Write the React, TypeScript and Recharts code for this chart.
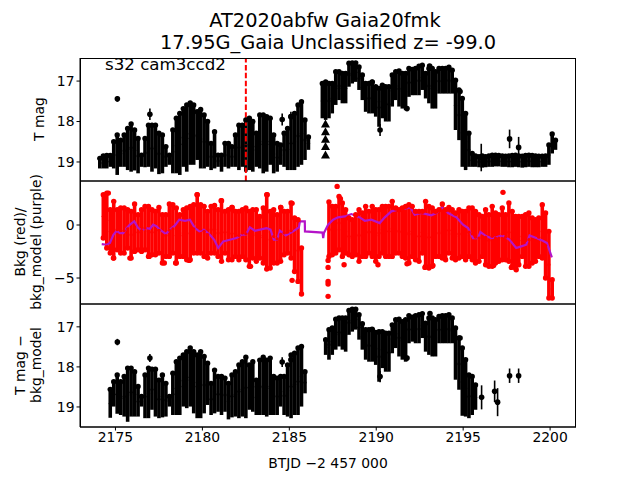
import { ComposedChart, Scatter, ErrorBar, Line, XAxis, YAxis, ReferenceLine } from 'recharts';

const FONT = 'DejaVu Sans';
const BTJD_TICKS = [2175, 2180, 2185, 2190, 2195, 2200];
const MAG_TICKS = [17, 18, 19];
const BKG_TICKS = [-5, 0];
const X_DOMAIN = [2172.96, 2201.49];

// sampling days, before and after the gap
const tLeft = [
  2174.1, 2174.3, 2174.5, 2174.7, 2174.9, 2175.1, 2175.3, 2175.5, 2175.7, 2175.9,
  2176.1, 2176.3, 2176.5, 2176.7, 2176.9, 2177.1, 2177.3, 2177.5, 2177.7, 2177.9,
  2178.1, 2178.3, 2178.5, 2178.7, 2178.9, 2179.1, 2179.3, 2179.5, 2179.7, 2179.9,
  2180.1, 2180.3, 2180.5, 2180.7, 2180.9, 2181.1, 2181.3, 2181.5, 2181.7, 2181.9,
  2182.1, 2182.3, 2182.5, 2182.7, 2182.9, 2183.1, 2183.3, 2183.5, 2183.7, 2183.9,
  2184.1, 2184.3, 2184.5, 2184.7, 2184.9, 2185.1, 2185.3, 2185.5, 2185.7, 2185.9, 2186.1,
];
const tRight = [
  2186.90, 2187.09, 2187.28, 2187.47, 2187.67, 2187.86, 2188.05, 2188.24, 2188.43, 2188.62,
  2188.82, 2189.01, 2189.20, 2189.39, 2189.58, 2189.77, 2189.97, 2190.16, 2190.35, 2190.54,
  2190.73, 2190.92, 2191.12, 2191.31, 2191.50, 2191.69, 2191.88, 2192.07, 2192.26, 2192.46,
  2192.65, 2192.84, 2193.03, 2193.22, 2193.41, 2193.61, 2193.80, 2193.99, 2194.18, 2194.37,
  2194.56, 2194.76, 2194.95, 2195.14, 2195.33, 2195.52, 2195.71, 2195.91, 2196.10, 2196.29,
  2196.48, 2196.67, 2196.86, 2197.05, 2197.25, 2197.44, 2197.63, 2197.82, 2198.01, 2198.20,
  2198.40, 2198.59, 2198.78, 2198.97, 2199.16, 2199.35, 2199.55, 2199.74, 2199.93, 2200.12, 2200.31,
];

// top panel, bright and faint edge of the light curve
const magTopLeft = [
  18.91, 18.85, 18.84, 18.84, 18.50, 18.33, 18.46, 18.33, 18.17, 18.06,
  18.21, 18.42, 18.83, 18.42, 18.09, 18.09, 18.09, 18.29, 18.33, 18.62,
  18.83, 18.21, 17.92, 17.80, 17.68, 17.59, 17.54, 17.59, 17.76, 17.70,
  17.84, 18.00, 18.54, 18.25, 18.83, 18.83, 18.54, 18.54, 18.62, 18.33,
  18.09, 18.09, 17.96, 17.92, 18.00, 18.29, 17.84, 17.84, 17.88, 17.92,
  18.33, 18.54, 18.58, 18.29, 18.17, 17.88, 17.80, 17.59, 17.51, 17.96, 18.38,
];
const magBotLeft = [
  19.16, 19.16, 19.16, 19.12, 19.16, 19.32, 19.12, 19.12, 19.20, 19.24,
  19.21, 19.28, 19.12, 19.13, 19.12, 19.24, 19.16, 19.30, 19.28, 19.12,
  19.07, 19.28, 19.28, 19.32, 19.12, 19.24, 19.07, 19.07, 18.95, 19.16,
  19.16, 19.12, 19.20, 19.16, 19.12, 19.24, 19.12, 19.16, 19.12, 19.12,
  19.20, 19.12, 19.24, 19.20, 19.24, 19.12, 19.16, 19.28, 19.24, 19.07,
  19.28, 19.24, 19.07, 19.12, 19.20, 19.20, 19.20, 19.12, 19.07, 18.95, 18.70,
];
const magTopRight = [
  17.06, 17.02, 17.06, 17.06, 16.77, 16.77, 16.81, 16.81, 16.56, 16.55,
  16.55, 16.65, 16.85, 17.06, 17.06, 17.02, 17.14, 17.18, 17.10, 17.14,
  17.14, 16.85, 16.77, 16.75, 16.81, 16.81, 16.69, 16.71, 16.69, 16.63,
  16.61, 16.81, 16.69, 16.69, 16.77, 16.69, 16.69, 16.69, 16.66, 16.73,
  16.98, 17.22, 17.43, 17.80, 18.29, 18.79, 18.85, 18.87, 18.85, 18.87,
  18.85, 18.83, 18.83, 18.84, 18.85, 18.86, 18.85, 18.84, 18.83, 18.85,
  18.86, 18.84, 18.83, 18.84, 18.85, 18.86, 18.86, 18.85, 18.58, 18.31, 18.46,
];
const magBotRight = [
  17.92, 17.96, 17.92, 17.80, 17.59, 17.47, 17.55, 17.55, 17.14, 17.06,
  17.02, 17.22, 17.47, 17.76, 17.80, 17.80, 17.88, 18.13, 17.92, 18.00,
  18.00, 17.63, 17.47, 17.63, 17.68, 17.72, 17.39, 17.35, 17.35, 17.35,
  17.22, 17.43, 17.55, 17.68, 17.68, 17.31, 17.31, 17.31, 17.31, 17.31,
  18.21, 18.46, 19.12, 19.20, 19.12, 19.12, 19.12, 19.13, 19.14, 19.13,
  19.12, 19.12, 19.11, 19.11, 19.12, 19.12, 19.13, 19.13, 19.12, 19.13,
  19.14, 19.13, 19.12, 19.13, 19.13, 19.13, 19.12, 19.12, 19.07, 18.79, 18.70,
];
const limitDays = [2187.08, 2187.08, 2187.08, 2187.08, 2187.08];
const limitMags = [18.06, 18.25, 18.44, 18.62, 18.83];
const soloDays = [2175.11, 2176.98, 2184.59, 2185.09, 2193.07, 2189.76, 2190.22, 2191.77, 2194.82, 2196.04, 2197.67, 2198.19];
const soloMags = [17.44, 17.82, 17.95, 17.88, 16.63, 17.03, 18.21, 17.68, 17.26, 18.89, 18.43, 18.64];
const soloErrs = [0.07, 0.14, 0.15, 0.12, 0.05, 0.05, 0.15, 0.06, 0.05, 0.34, 0.23, 0.26];

// middle panel, background flux
const bkgHiLeft = [
  2.86, 3.01, 1.44, 2.23, 1.44, 1.60, 1.60, 1.44, 1.29, 1.98,
  0.97, 1.44, 1.76, 1.76, 1.44, 1.29, 1.66, 0.97, 0.97, 1.98,
  1.91, 1.60, 0.97, 1.44, 1.60, 1.76, 1.91, 2.86, 1.91, 1.76,
  1.29, 1.76, 1.85, 1.44, 2.29, 1.29, 1.44, 1.66, 1.29, 1.29,
  1.44, 1.60, 1.29, 1.44, 1.44, 0.81, 1.60, 2.86, 1.29, 1.44,
  0.97, 1.66, 1.29, 1.29, 2.07, 0.66, 0.50, -2.17,
];
const bkgLoLeft = [
  -1.23, -2.17, -2.65, -3.12, -2.33, -2.65, -2.65, -2.17, -3.12, -2.49,
  -2.33, -2.49, -2.33, -2.96, -2.80, -2.80, -2.65, -3.59, -2.96, -2.96,
  -2.65, -3.59, -2.96, -2.96, -3.27, -3.27, -2.65, -2.65, -2.65, -2.96,
  -3.12, -2.65, -2.65, -2.96, -3.43, -2.65, -3.27, -3.27, -2.96, -3.27,
  -2.96, -3.27, -3.90, -3.12, -3.43, -3.12, -3.59, -4.16, -4.06, -3.59,
  -3.59, -3.43, -2.80, -2.65, -3.12, -4.38, -5.32, -6.51,
];
const bkgHiRight = [
  2.17, 1.76, 1.76, 2.70, 2.07, 1.44, 0.66, 0.50, 0.97, 1.44,
  1.13, 1.76, 1.29, 1.76, 1.44, 1.44, 1.76, 1.76, 1.76, 2.23,
  1.60, 1.44, 1.60, 1.76, 1.91, 1.76, 1.29, 1.29, 1.29, 2.23,
  1.76, 1.60, 1.29, 1.44, 1.98, 1.44, 1.66, 1.44, 1.13, 1.44,
  1.29, 1.29, 1.60, 1.60, 1.29, 0.97, 0.81, 1.44, 0.97, 1.76,
  1.13, 0.97, 1.60, 0.97, 2.07, 1.29, 0.81, 0.81, 0.81, 0.97,
  1.13, 0.66, 0.50, 0.66, 1.91, 1.13, -0.60, -5.16,
];
const bkgLoRight = [
  -2.96, -2.80, -2.65, -2.33, -2.96, -2.65, -2.80, -2.96, -2.80, -3.43,
  -2.96, -2.96, -2.65, -2.96, -3.43, -2.96, -2.65, -2.96, -2.96, -2.96,
  -2.65, -2.65, -2.96, -3.12, -3.59, -2.96, -3.27, -3.43, -2.65, -3.90,
  -4.06, -3.90, -2.96, -2.96, -3.12, -3.27, -2.65, -3.12, -3.27, -3.12,
  -2.96, -3.27, -2.96, -3.27, -3.59, -3.43, -2.96, -3.75, -3.90, -3.90,
  -3.59, -3.43, -3.27, -3.27, -3.43, -3.90, -4.06, -3.75, -2.96, -3.90,
  -3.90, -3.59, -3.43, -2.96, -3.12, -5.00, -6.89, -6.89,
];
const bkgSoloDays = [2174.59, 2174.88, 2175.83, 2176.94, 2177.81, 2178.46, 2179.24, 2179.7, 2181.08, 2181.71, 2182.77, 2183.73, 2184.51, 2185.16, 2185.16, 2187.23, 2187.23, 2187.23, 2187.23, 2187.23, 2187.75, 2187.94, 2188.15, 2190.1, 2191.77, 2192.8, 2193.26, 2196.75, 2197.29, 2197.77, 2198.05];
const bkgSoloVals = [3.01, -3.12, -3.12, -2.96, -3.59, -3.59, -3.34, 2.86, 2.29, 1.66, -3.90, 2.86, 1.66, -5.22, 2.04, -3.34, -4.0, -5.32, -5.57, -6.73, 3.64, 2.48, -3.75, -3.75, -3.65, -4.0, -3.81, -3.81, 3.08, -4.0, -4.22];

const modelDays = [
  2174.21, 2174.49, 2174.68, 2174.88, 2175.07, 2175.26, 2175.45, 2175.64, 2175.83, 2176.08,
  2176.31, 2176.50, 2176.79, 2176.98, 2177.17, 2177.37, 2177.56, 2177.90, 2178.13, 2178.42,
  2178.67, 2179.00, 2179.28, 2179.57, 2179.82, 2180.09, 2180.43, 2180.68, 2180.91, 2181.20,
  2181.58, 2181.96, 2182.25, 2182.50, 2182.73, 2183.02, 2183.31, 2183.69, 2183.92, 2184.11,
  2184.30, 2184.46, 2184.80, 2185.22, 2185.55, 2185.61, 2185.89, 2185.90, 2186.91, 2186.95,
  2186.99, 2187.23, 2187.52, 2187.80, 2188.19, 2188.57, 2189.05, 2189.34, 2189.72, 2190.20,
  2190.49, 2190.87, 2191.25, 2191.64, 2191.96, 2192.21, 2192.59, 2192.88, 2193.17, 2193.46,
  2193.80, 2194.13, 2194.61, 2194.99, 2195.28, 2195.56, 2195.85, 2195.99, 2196.33, 2196.62,
  2196.90, 2197.25, 2197.67, 2198.05, 2198.34, 2198.63, 2198.82, 2199.20, 2199.58, 2199.82, 2200.10,
];
const modelVals = [
  -1.80, -1.86, -1.70, -0.92, -0.54, -0.76, -0.76, -0.29, 0.03, 0.34,
  -0.29, -0.51, -0.29, -0.35, 0.03, -0.13, -0.44, -0.85, -0.44, -0.04,
  0.50, 0.40, 0.50, -0.29, -0.60, -0.44, -0.92, -1.39, -2.17, -1.55,
  -1.39, -1.23, -0.92, -0.92, -0.22, -0.54, -0.44, -0.29, -0.44, -1.39,
  -1.39, -0.54, -0.98, -0.60, -0.22, 0.34, 0.34, -0.60, -0.72, -1.23,
  -0.76, 0.03, 0.50, 0.72, 0.81, 1.03, 0.72, 0.40, 0.50, 0.18,
  0.72, 1.29, 1.44, 1.54, 1.66, 0.97, 1.13, 1.03, 0.91, 1.13,
  1.66, 1.13, 0.72, 0.03, -0.29, -1.23, -1.23, -0.66, -1.07, -1.23,
  -1.17, -0.98, -1.39, -2.17, -2.02, -1.86, -0.98, -1.23, -1.48, -1.70, -3.05,
];

// bottom panel, background-corrected magnitude
const corrTopLeft = [
  18.56, 18.37, 18.20, 18.37, 18.24, 18.03, 18.03, 18.12, 18.49, 18.74,
  18.20, 18.03, 18.06, 18.06, 18.33, 18.20, 18.41, 18.74, 18.16, 17.87,
  17.78, 17.70, 17.62, 17.53, 17.62, 17.70, 17.62, 17.74, 17.91, 18.41,
  18.08, 18.24, 18.24, 18.28, 18.41, 18.20, 18.12, 17.95, 17.87, 17.76,
  17.95, 17.87, 18.33, 17.83, 17.76, 17.83, 17.78, 18.24, 18.28, 18.24,
  18.24, 17.95, 17.70, 17.66, 17.53, 17.49, 18.12,
];
const corrBotLeft = [
  19.27, 18.99, 19.17, 19.20, 19.24, 19.37, 19.24, 19.24, 19.24, 18.99,
  19.28, 19.28, 19.07, 19.24, 19.28, 19.26, 19.24, 18.99, 19.20, 19.20,
  19.20, 18.99, 19.03, 18.99, 19.16, 19.28, 19.28, 19.16, 18.95, 19.20,
  19.16, 19.12, 19.20, 19.12, 19.31, 19.26, 19.24, 19.28, 19.24, 19.28,
  19.07, 19.12, 19.20, 19.20, 19.20, 19.24, 19.20, 19.20, 19.20, 18.99,
  19.20, 19.24, 19.28, 19.20, 19.20, 18.99, 18.66,
];
const corrTopRight = [
  17.32, 17.07, 17.03, 16.81, 16.78, 16.78, 16.78, 16.59, 16.56, 16.56,
  16.70, 16.92, 17.07, 17.07, 17.07, 17.14, 17.12, 17.12, 17.16, 17.16,
  16.95, 16.82, 16.81, 16.87, 16.82, 16.72, 16.76, 16.72, 16.70, 16.67,
  16.91, 16.78, 16.78, 16.82, 16.74, 16.72, 16.72, 16.70, 16.78, 17.03,
  17.28, 17.53, 17.82, 18.20, 18.24, 18.45,
];
const corrBotRight = [
  17.70, 17.82, 17.70, 17.57, 17.49, 17.57, 17.62, 17.20, 17.12, 17.07,
  17.32, 17.57, 17.82, 17.87, 17.87, 17.95, 18.37, 18.03, 18.12, 18.12,
  17.66, 17.53, 17.74, 17.82, 17.87, 17.41, 17.37, 17.41, 17.41, 17.28,
  17.62, 17.70, 17.74, 17.74, 17.41, 17.41, 17.41, 17.41, 17.41, 18.32,
  18.57, 19.22, 19.24, 19.28, 19.20, 19.07,
];
const corrSoloDays = [2175.11, 2176.98, 2184.59, 2185.09, 2193.09, 2189.76, 2190.22, 2191.77, 2194.82, 2196.06, 2196.81, 2196.98, 2197.67, 2198.19];
const corrSoloMags = [17.38, 17.78, 17.88, 17.82, 16.67, 17.06, 18.24, 17.78, 17.28, 18.76, 18.61, 18.88, 18.22, 18.22];
const corrSoloErrs = [0.08, 0.10, 0.12, 0.10, 0.05, 0.05, 0.14, 0.06, 0.05, 0.30, 0.27, 0.35, 0.18, 0.18];

const columns = (days: number[], edgeA: number[], edgeB: number[]) =>
  days.map((t, i) => ({ t, y: (edgeA[i] + edgeB[i]) / 2, err: Math.abs(edgeB[i] - edgeA[i]) / 2 }));
const points = (days: number[], vals: number[], errs?: number[]) =>
  days.map((t, i) => ({ t, y: vals[i], err: errs ? errs[i] : 0 }));

const dot = (fill: string, r: number) => (p: any) => <circle cx={p.cx} cy={p.cy} r={r} fill={fill} />;
const triangle = (p: any) => (
  <polygon points={`${p.cx},${p.cy - 4.5} ${p.cx + 4.5},${p.cy + 3.5} ${p.cx - 4.5},${p.cy + 3.5}`} fill="#000" />
);

const tickStyle = { fill: '#000', fontSize: 13.9, fontFamily: FONT };
const axisLine = { stroke: '#000', strokeWidth: 1 };

const Band = (rows: any[], edges: any[], color: string, key: string) => [
  <Scatter key={key + 'c'} data={rows} fill={color} shape={dot(color, 1.6)} isAnimationActive={false}>
    <ErrorBar dataKey="err" direction="y" width={0} stroke={color} strokeWidth={3.6} isAnimationActive={false} />
  </Scatter>,
  <Scatter key={key + 'e'} data={edges} fill={color} shape={dot(color, 2.7)} isAnimationActive={false} />,
];

const Solo = (rows: any[]) => (
  <Scatter data={rows} fill="#000" shape={dot('#000', 2.8)} isAnimationActive={false}>
    <ErrorBar dataKey="err" direction="y" width={0} stroke="#000" strokeWidth={1.6} isAnimationActive={false} />
  </Scatter>
);

const App = () => {
  const leftBottom = tLeft.slice(3, 60);
  const rightBottom = tRight.slice(1, 47);
  const redLeft = tLeft.slice(1, 59);
  const redRight = tRight.slice(2, 70);
  return (
    <div style={{ position: 'absolute', left: 0, top: 0, width: 640, height: 480, background: '#fff', overflow: 'hidden' }}>
      <div style={{ position: 'absolute', left: 0, top: 0 }}>
        <ComposedChart width={640} height={181} margin={{ top: 58, right: 64, bottom: 0, left: 0 }}>
          <XAxis dataKey="t" type="number" domain={X_DOMAIN} hide allowDataOverflow />
          <YAxis dataKey="y" type="number" width={80} reversed domain={[16.43, 19.47]} ticks={MAG_TICKS} interval={0} tick={tickStyle} tickSize={3.5} tickLine={axisLine} axisLine={axisLine} allowDataOverflow />
          {Band(columns(tLeft, magTopLeft, magBotLeft), points(tLeft, magTopLeft), '#000', 'l')}
          {Band(columns(tRight, magTopRight, magBotRight), points(tRight, magTopRight), '#000', 'r')}
          <Scatter data={points(limitDays, limitMags)} fill="#000" shape={triangle} isAnimationActive={false} />
          {Solo(points(soloDays, soloMags, soloErrs))}
          <ReferenceLine x={2182.5} stroke="#ff0000" strokeWidth={2} strokeDasharray="5.5 2.4" />
        </ComposedChart>
      </div>
      <div style={{ position: 'absolute', left: 0, top: 181 }}>
        <ComposedChart width={640} height={123} margin={{ top: 0, right: 64, bottom: 0, left: 0 }}>
          <XAxis dataKey="t" type="number" domain={X_DOMAIN} hide allowDataOverflow />
          <YAxis dataKey="y" type="number" width={80} domain={[-7.45, 4.15]} ticks={BKG_TICKS} interval={0} tick={tickStyle} tickSize={3.5} tickLine={axisLine} axisLine={axisLine} tickFormatter={(v: number) => String(v).replace('-', '\u2212')} allowDataOverflow />
          {Band(columns(redLeft, bkgHiLeft, bkgLoLeft), [...points(redLeft, bkgHiLeft), ...points(redLeft, bkgLoLeft)], '#ff0000', 'l')}
          {Band(columns(redRight, bkgHiRight, bkgLoRight), [...points(redRight, bkgHiRight), ...points(redRight, bkgLoRight)], '#ff0000', 'r')}
          <Scatter data={points(bkgSoloDays, bkgSoloVals)} fill="#ff0000" shape={dot('#ff0000', 2.7)} isAnimationActive={false} />
          <Line data={points(modelDays, modelVals)} dataKey="y" type="linear" stroke="#b414c8" strokeWidth={2.2} dot={false} isAnimationActive={false} />
        </ComposedChart>
      </div>
      <div style={{ position: 'absolute', left: 0, top: 304 }}>
        <ComposedChart width={640} height={176} margin={{ top: 0, right: 64, bottom: 0, left: 0 }}>
          <XAxis dataKey="t" type="number" height={53} domain={X_DOMAIN} ticks={BTJD_TICKS} interval={0} tick={tickStyle} tickSize={3.5} tickLine={axisLine} axisLine={axisLine} allowDataOverflow />
          <YAxis dataKey="y" type="number" width={80} reversed domain={[16.43, 19.5]} ticks={MAG_TICKS} interval={0} tick={tickStyle} tickSize={3.5} tickLine={axisLine} axisLine={axisLine} allowDataOverflow />
          {Band(columns(leftBottom, corrTopLeft, corrBotLeft), points(leftBottom, corrTopLeft), '#000', 'l')}
          {Band(columns(rightBottom, corrTopRight, corrBotRight), points(rightBottom, corrTopRight), '#000', 'r')}
          {Solo(points(corrSoloDays, corrSoloMags, corrSoloErrs))}
        </ComposedChart>
      </div>
      <svg width={640} height={480} style={{ position: 'absolute', left: 0, top: 0, pointerEvents: 'none' }} fontFamily={FONT} fill="#000">
        <rect x={80.5} y={58.5} width={495} height={122.5} fill="none" stroke="#000" />
        <rect x={80.5} y={181} width={495} height={123} fill="none" stroke="#000" />
        <rect x={80.5} y={304} width={495} height={123} fill="none" stroke="#000" />
        <text x={325} y={27} fontSize={19.4} textAnchor="middle">AT2020abfw  Gaia20fmk</text>
        <text x={328} y={49} fontSize={19.4} textAnchor="middle">17.95G_Gaia Unclassified z= -99.0</text>
        <text x={105} y={70} fontSize={16.67}>s32 cam3ccd2</text>
        <text x={328} y={468} fontSize={13.9} textAnchor="middle">BTJD {'\u2212'}2 457 000</text>
        <text transform="translate(44,119) rotate(-90)" fontSize={13.9} textAnchor="middle">T mag</text>
        <text transform="translate(25,242) rotate(-90)" fontSize={13.9} textAnchor="middle">Bkg (red)/</text>
        <text transform="translate(41,242) rotate(-90)" fontSize={13.9} textAnchor="middle">bkg_model (purple)</text>
        <text transform="translate(25,365) rotate(-90)" fontSize={13.9} textAnchor="middle">T mag {'\u2212'}</text>
        <text transform="translate(41,365) rotate(-90)" fontSize={13.9} textAnchor="middle">bkg_model</text>
      </svg>
    </div>
  );
};

export default App;
